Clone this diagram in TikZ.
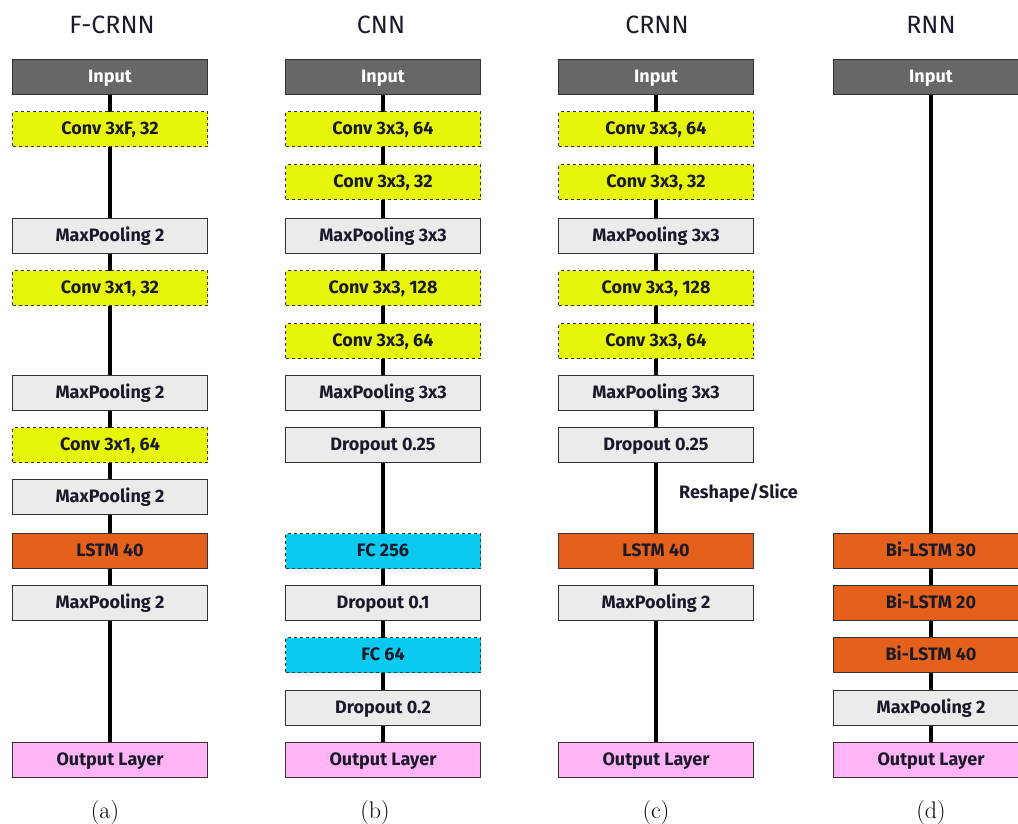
\documentclass[tikz,border=0pt]{standalone}
\usepackage{fontspec}
\newfontfamily\fira{Fira Sans}
\usetikzlibrary{backgrounds}
\definecolor{inputgray}{HTML}{676767}
\definecolor{convyellow}{HTML}{E6F50A}
\definecolor{fccyan}{HTML}{0CC9F0}
\definecolor{lstmorange}{HTML}{E5601B}
\definecolor{poolgray}{HTML}{EBEBEB}
\definecolor{outpink}{HTML}{FFB4F6}
\definecolor{labelink}{HTML}{1A1A2A}
\definecolor{edgegray}{HTML}{333333}
\tikzset{
  labelfont/.style={font=\fira\bfseries\fontsize{18}{20}\selectfont, text=labelink},
  layer/.style={draw=edgegray, line width=1.3pt, minimum width=195pt, minimum height=35pt,
    inner sep=0pt, labelfont, text height=12.5pt, text depth=1pt},
  inbox/.style={layer, fill=inputgray, text=white},
  convbox/.style={layer, fill=convyellow, dashed},
  fcbox/.style={layer, fill=fccyan, dashed},
  lstmbox/.style={layer, fill=lstmorange},
  poolbox/.style={layer, fill=poolgray},
  outbox/.style={layer, fill=outpink},
  title/.style={font=\fira\fontsize{25}{28}\selectfont, text=labelink},
  caption/.style={font=\fontsize{24}{26}\selectfont},
  spine/.style={line width=4.5pt, black},
}
\begin{document}
\begin{tikzpicture}[x=1pt, y=-1pt]
\useasboundingbox (0,0) rectangle (1018,823);
\clip (0,0) rectangle (1018,823);

% (a) F-CRNN
\node[title] (ta) at (112,25) {F-CRNN};
\node[inbox]   (a1) at (110,77)  {Input};
\node[convbox] (a2) at (110,129) {Conv 3xF, 32};
\node[poolbox] (a3) at (110,236) {MaxPooling 2};
\node[convbox] (a4) at (110,288) {Conv 3x1, 32};
\node[poolbox] (a5) at (110,393) {MaxPooling 2};
\node[convbox] (a6) at (110,445) {Conv 3x1, 64};
\node[poolbox] (a7) at (110,497) {MaxPooling 2};
\node[lstmbox] (a8) at (110,551) {LSTM 40};
\node[poolbox] (a9) at (110,603) {MaxPooling 2};
\node[outbox]  (a10) at (110,760) {Output Layer};
\node[caption] (ca) at (105,812) {(a)};

% (b) CNN
\node[title] (tb) at (381,25) {CNN};
\node[inbox]   (b1) at (383,77)  {Input};
\node[convbox] (b2) at (383,129) {Conv 3x3, 64};
\node[convbox] (b3) at (383,182) {Conv 3x3, 32};
\node[poolbox] (b4) at (383,236) {MaxPooling 3x3};
\node[convbox] (b5) at (383,288) {Conv 3x3, 128};
\node[convbox] (b6) at (383,341) {Conv 3x3, 64};
\node[poolbox] (b7) at (383,393) {MaxPooling 3x3};
\node[poolbox] (b8) at (383,445) {Dropout 0.25};
\node[fcbox]   (b9) at (383,551) {FC 256};
\node[poolbox] (b10) at (383,603) {Dropout 0.1};
\node[fcbox]   (b11) at (383,655) {FC 64};
\node[poolbox] (b12) at (383,708) {Dropout 0.2};
\node[outbox]  (b13) at (383,760) {Output Layer};
\node[caption] (cb) at (375,812) {(b)};

% (c) CRNN
\node[title] (tc) at (657,25) {CRNN};
\node[inbox]   (c1) at (656,77)  {Input};
\node[convbox] (c2) at (656,129) {Conv 3x3, 64};
\node[convbox] (c3) at (656,182) {Conv 3x3, 32};
\node[poolbox] (c4) at (656,236) {MaxPooling 3x3};
\node[convbox] (c5) at (656,288) {Conv 3x3, 128};
\node[convbox] (c6) at (656,341) {Conv 3x3, 64};
\node[poolbox] (c7) at (656,393) {MaxPooling 3x3};
\node[poolbox] (c8) at (656,445) {Dropout 0.25};
\node[labelfont, anchor=west, inner sep=0pt] (rs) at (679,493) {Reshape/Slice};
\node[lstmbox] (c9) at (656,551) {LSTM 40};
\node[poolbox] (c10) at (656,603) {MaxPooling 2};
\node[outbox]  (c11) at (656,760) {Output Layer};
\node[caption] (cc) at (656,812) {(c)};

% (d) RNN
\node[title] (td) at (931,25) {RNN};
\node[inbox]   (d1) at (931,77)  {Input};
\node[lstmbox] (d2) at (931,551) {Bi-LSTM 30};
\node[lstmbox] (d3) at (931,603) {Bi-LSTM 20};
\node[lstmbox] (d4) at (931,655) {Bi-LSTM 40};
\node[poolbox] (d5) at (931,708) {MaxPooling 2};
\node[outbox]  (d6) at (931,760) {Output Layer};
\node[caption] (cd) at (931,812) {(d)};

% data flow spines behind the layers
\begin{scope}[on background layer]
  \draw[spine] (a1) -- (a10);
  \draw[spine] (b1) -- (b13);
  \draw[spine] (c1) -- (c11);
  \draw[spine] (d1) -- (d6);
\end{scope}
\end{tikzpicture}
\end{document}
